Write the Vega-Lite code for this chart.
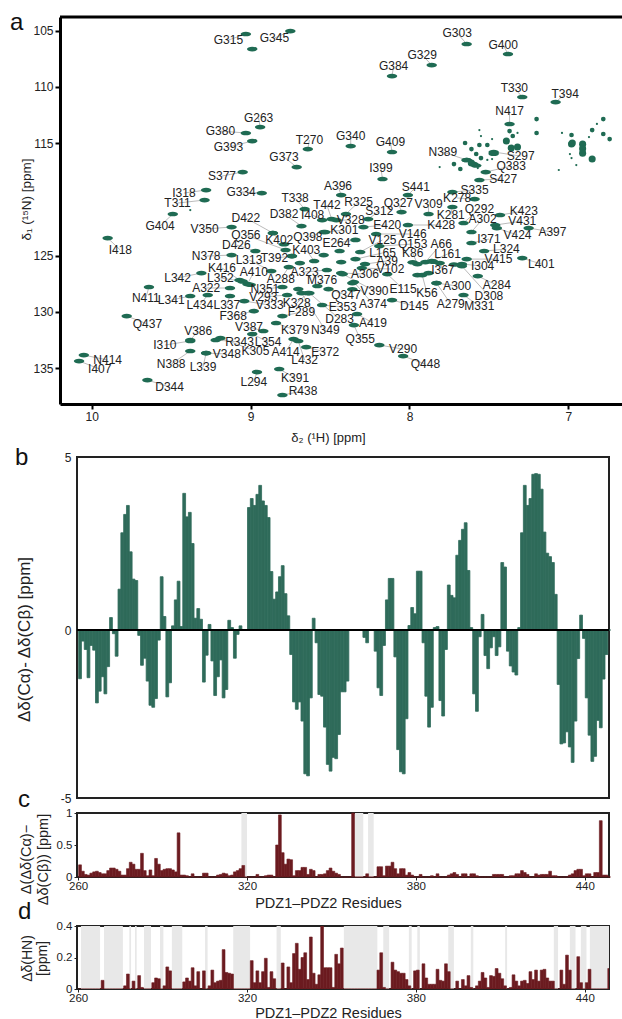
{"$schema":"https://vega.github.io/schema/vega-lite/v6.json","padding":{"left":10,"top":10,"right":-4,"bottom":0},"background":"white","bounds":"flush","center":true,"spacing":15,"config":{"font":"Liberation Sans","axis":{"grid":false,"labelColor":"#222","titleColor":"#222","tickColor":"#222","domainColor":"#111","titleFontWeight":"normal"},"title":{"fontWeight":"normal","color":"#111"}},
"datasets":{
"peaks":[
{"res":"G315","H":9.03,"N":105.31,"lH":9.14,"lN":105.85},{"res":"G345","H":8.75,"N":105.05,"lH":8.85,"lN":105.67},{"res":"G263","H":8.94,"N":113.58,"lH":8.95,"lN":112.78},{"res":"G380","H":9.03,"N":114.11,"lH":9.19,"lN":113.94},{"res":"G393","H":8.99,"N":114.83,"lH":9.14,"lN":115.36},{"res":"T270","H":8.64,"N":115.54,"lH":8.63,"lN":114.74},{"res":"G373","H":8.71,"N":117.14,"lH":8.79,"lN":116.25},{"res":"S377","H":9.05,"N":117.58,"lH":9.18,"lN":117.94},{"res":"I318","H":9.28,"N":119.18,"lH":9.42,"lN":119.45},{"res":"T311","H":9.29,"N":120.07,"lH":9.46,"lN":120.34},{"res":"G334","H":8.93,"N":119.45,"lH":9.06,"lN":119.36},{"res":"T338","H":8.66,"N":120.87,"lH":8.72,"lN":119.89},{"res":"G404","H":9.49,"N":121.31,"lH":9.57,"lN":122.38},{"res":"I418","H":9.9,"N":123.45,"lH":9.82,"lN":124.52},{"res":"V350","H":9.12,"N":122.47,"lH":9.29,"lN":122.65},{"res":"D422","H":8.86,"N":123.0,"lH":9.03,"lN":121.67},{"res":"D382","H":8.68,"N":122.38,"lH":8.79,"lN":121.31},{"res":"I408","H":8.55,"N":121.85,"lH":8.61,"lN":121.4},{"res":"T442","H":8.49,"N":121.76,"lH":8.52,"lN":120.51},{"res":"Q356","H":8.78,"N":124.51,"lH":9.03,"lN":123.18},{"res":"K402","H":8.86,"N":123.0,"lH":8.82,"lN":123.62},{"res":"Q398","H":8.54,"N":122.91,"lH":8.64,"lN":123.36},{"res":"D426","H":8.97,"N":124.6,"lH":9.09,"lN":124.07},{"res":"N378","H":9.12,"N":124.96,"lH":9.28,"lN":125.05},{"res":"K403","H":8.6,"N":125.49,"lH":8.65,"lN":124.51},{"res":"T392","H":8.74,"N":125.05,"lH":8.85,"lN":125.23},{"res":"L313","H":8.87,"N":126.38,"lH":9.01,"lN":125.4},{"res":"A410","H":9.02,"N":127.54,"lH":8.98,"lN":126.47},{"res":"K416","H":9.07,"N":127.18,"lH":9.18,"lN":126.11},{"res":"L342","H":9.31,"N":126.56,"lH":9.46,"lN":127.0},{"res":"L352","H":9.05,"N":127.3,"lH":9.19,"lN":127.0},{"res":"A288","H":8.76,"N":126.03,"lH":8.81,"lN":127.09},{"res":"A323","H":8.52,"N":126.29,"lH":8.66,"lN":126.47},{"res":"M376","H":8.58,"N":127.71,"lH":8.55,"lN":127.18},{"res":"A322","H":9.13,"N":127.89,"lH":9.28,"lN":127.89},{"res":"N351","H":8.8,"N":127.8,"lH":8.91,"lN":127.98},{"res":"V293","H":8.77,"N":128.51,"lH":8.92,"lN":128.69},{"res":"N411","H":9.64,"N":127.8,"lH":9.66,"lN":128.78},{"res":"L341","H":9.38,"N":128.6,"lH":9.5,"lN":128.96},{"res":"L434","H":9.27,"N":128.51,"lH":9.32,"lN":129.4},{"res":"L337","H":9.13,"N":128.6,"lH":9.15,"lN":129.4},{"res":"V333","H":9.04,"N":129.05,"lH":8.88,"lN":129.4},{"res":"K328","H":8.64,"N":128.34,"lH":8.71,"lN":129.23},{"res":"F289","H":8.8,"N":130.38,"lH":8.68,"lN":130.03},{"res":"F368","H":8.98,"N":129.94,"lH":9.11,"lN":130.38},{"res":"Q437","H":9.78,"N":130.38,"lH":9.65,"lN":131.09},{"res":"V387","H":8.92,"N":131.71,"lH":9.01,"lN":131.36},{"res":"L354","H":8.99,"N":131.98,"lH":8.89,"lN":132.69},{"res":"K379","H":8.84,"N":131.0,"lH":8.72,"lN":131.63},{"res":"N349","H":8.68,"N":128.34,"lH":8.53,"lN":131.63},{"res":"D283","H":8.63,"N":128.34,"lH":8.44,"lN":130.65},{"res":"E353","H":8.55,"N":129.4,"lH":8.42,"lN":129.58},{"res":"Q347","H":8.51,"N":127.98,"lH":8.4,"lN":128.51},{"res":"A419","H":8.33,"N":130.2,"lH":8.23,"lN":131.0},{"res":"Q355","H":8.35,"N":131.18,"lH":8.31,"lN":132.43},{"res":"R343","H":9.22,"N":132.51,"lH":9.07,"lN":132.69},{"res":"K305","H":9.19,"N":132.34,"lH":8.97,"lN":133.49},{"res":"A414","H":8.73,"N":132.43,"lH":8.78,"lN":133.58},{"res":"V386","H":9.38,"N":132.51,"lH":9.33,"lN":131.71},{"res":"E372","H":8.65,"N":133.14,"lH":8.53,"lN":133.58},{"res":"L432","H":8.7,"N":132.6,"lH":8.66,"lN":134.29},{"res":"I310","H":9.38,"N":132.6,"lH":9.54,"lN":132.96},{"res":"V348","H":9.28,"N":133.67,"lH":9.15,"lN":133.76},{"res":"L339","H":9.28,"N":133.67,"lH":9.3,"lN":134.92},{"res":"N388","H":9.38,"N":133.49,"lH":9.5,"lN":134.65},{"res":"N414","H":10.05,"N":133.85,"lH":9.9,"lN":134.29},{"res":"I407","H":10.08,"N":134.38,"lH":9.95,"lN":135.09},{"res":"D344","H":9.65,"N":136.07,"lH":9.51,"lN":136.69},{"res":"L294","H":8.96,"N":135.36,"lH":8.98,"lN":136.25},{"res":"K391","H":8.82,"N":135.09,"lH":8.72,"lN":135.89},{"res":"R438","H":8.8,"N":137.4,"lH":8.67,"lN":137.05},{"res":"G303","H":7.64,"N":106.2,"lH":7.7,"lN":105.22},{"res":"G400","H":7.38,"N":107.09,"lH":7.41,"lN":106.29},{"res":"G329","H":7.86,"N":108.07,"lH":7.92,"lN":107.18},{"res":"G384","H":8.11,"N":109.05,"lH":8.1,"lN":108.16},{"res":"T330","H":7.29,"N":110.91,"lH":7.34,"lN":110.11},{"res":"T394","H":7.08,"N":111.36,"lH":7.02,"lN":110.65},{"res":"N417","H":7.37,"N":113.31,"lH":7.37,"lN":112.16},{"res":"G340","H":8.37,"N":115.27,"lH":8.37,"lN":114.38},{"res":"G409","H":8.11,"N":115.8,"lH":8.12,"lN":114.91},{"res":"N389","H":7.64,"N":116.51,"lH":7.79,"lN":115.8},{"res":"S297","H":7.47,"N":115.8,"lH":7.3,"lN":116.16},{"res":"Q383","H":7.52,"N":117.58,"lH":7.36,"lN":117.05},{"res":"S427","H":7.56,"N":118.29,"lH":7.41,"lN":118.2},{"res":"I399","H":8.17,"N":118.2,"lH":8.18,"lN":117.23},{"res":"S441","H":8.01,"N":119.63,"lH":7.96,"lN":118.92},{"res":"S335","H":7.73,"N":119.36,"lH":7.59,"lN":119.18},{"res":"K278","H":7.59,"N":119.98,"lH":7.7,"lN":119.89},{"res":"A396","H":8.43,"N":119.63,"lH":8.45,"lN":118.83},{"res":"R325","H":8.4,"N":121.31,"lH":8.32,"lN":120.25},{"res":"S312","H":8.26,"N":121.76,"lH":8.19,"lN":121.05},{"res":"Q327","H":8.05,"N":121.14,"lH":8.07,"lN":120.34},{"res":"V309","H":7.88,"N":121.31,"lH":7.88,"lN":120.43},{"res":"K281","H":7.73,"N":120.69,"lH":7.74,"lN":121.4},{"res":"K428","H":8.01,"N":122.29,"lH":7.8,"lN":122.29},{"res":"E420","H":8.29,"N":122.47,"lH":8.14,"lN":122.29},{"res":"V328","H":8.46,"N":121.85,"lH":8.37,"lN":121.85},{"res":"K301","H":8.53,"N":122.91,"lH":8.41,"lN":122.74},{"res":"E264","H":8.34,"N":123.62,"lH":8.46,"lN":123.89},{"res":"Q292","H":7.66,"N":122.11,"lH":7.56,"lN":120.87},{"res":"A302","H":7.61,"N":122.91,"lH":7.54,"lN":121.76},{"res":"K423","H":7.43,"N":121.4,"lH":7.28,"lN":121.05},{"res":"V431","H":7.46,"N":122.29,"lH":7.29,"lN":121.94},{"res":"V424","H":7.45,"N":122.56,"lH":7.32,"lN":123.18},{"res":"A397","H":7.25,"N":122.56,"lH":7.1,"lN":122.91},{"res":"I371","H":7.61,"N":123.89,"lH":7.5,"lN":123.54},{"res":"L324","H":7.53,"N":124.6,"lH":7.39,"lN":124.43},{"res":"V415","H":7.64,"N":125.32,"lH":7.44,"lN":125.32},{"res":"L401","H":7.29,"N":125.23,"lH":7.17,"lN":125.76},{"res":"I304","H":7.67,"N":125.76,"lH":7.54,"lN":125.94},{"res":"I367","H":7.81,"N":125.67,"lH":7.79,"lN":126.29},{"res":"L161","H":7.86,"N":125.49,"lH":7.76,"lN":124.87},{"res":"A66","H":7.9,"N":125.58,"lH":7.8,"lN":123.98},{"res":"K86","H":7.95,"N":125.76,"lH":7.98,"lN":124.78},{"res":"Q153","H":8.19,"N":124.16,"lH":7.98,"lN":123.98},{"res":"V146","H":8.21,"N":123.09,"lH":7.98,"lN":123.09},{"res":"V125","H":8.31,"N":124.69,"lH":8.17,"lN":123.62},{"res":"L165","H":8.34,"N":125.32,"lH":8.17,"lN":124.78},{"res":"A39","H":8.28,"N":125.76,"lH":8.14,"lN":125.49},{"res":"V102","H":8.3,"N":126.12,"lH":8.12,"lN":126.2},{"res":"A306","H":8.43,"N":126.56,"lH":8.28,"lN":126.65},{"res":"A284","H":7.57,"N":126.83,"lH":7.45,"lN":127.63},{"res":"A300","H":7.83,"N":127.45,"lH":7.7,"lN":127.71},{"res":"D308","H":7.67,"N":125.94,"lH":7.5,"lN":128.6},{"res":"M331","H":7.66,"N":128.51,"lH":7.56,"lN":129.49},{"res":"A279","H":7.83,"N":127.45,"lH":7.74,"lN":129.32},{"res":"K56","H":7.92,"N":126.74,"lH":7.89,"lN":128.34},{"res":"E115","H":8.14,"N":126.65,"lH":8.04,"lN":127.98},{"res":"D145","H":8.11,"N":128.96,"lH":7.97,"lN":129.49},{"res":"A374","H":8.35,"N":127.36,"lH":8.23,"lN":129.32},{"res":"V390","H":8.42,"N":126.65,"lH":8.22,"lN":128.16},{"res":"V290","H":8.19,"N":132.96,"lH":8.04,"lN":133.32},{"res":"Q448","H":8.04,"N":133.94,"lH":7.9,"lN":134.65}],
"unlabelled":[{"H":8.99,"N":106.65},{"H":8.69,"N":125.67},{"H":8.44,"N":124.6},{"H":8.43,"N":125.58},{"H":7.88,"N":126.56},{"H":7.95,"N":126.74},{"H":8.36,"N":127.45},{"H":8.7,"N":127.98},{"H":8.54,"N":124.96},{"H":9.0,"N":127.6},{"H":8.74,"N":125.05},{"H":8.36,"N":128.0},{"H":8.79,"N":124.0},{"H":7.85,"N":125.55},{"H":7.72,"N":125.8},{"H":7.98,"N":125.6},{"H":7.64,"N":116.51},{"H":7.6,"N":116.85},{"H":7.58,"N":117.0},{"H":7.47,"N":115.95}],
"minor":[{"H":7.2,"N":112.87,"c":"s"},{"H":7.2,"N":114.11,"c":"s"},{"H":7.56,"N":113.85,"c":"t"},{"H":7.55,"N":114.38,"c":"t"},{"H":7.65,"N":115.0,"c":"s"},{"H":7.56,"N":115.18,"c":"s"},{"H":7.48,"N":114.65,"c":"t"},{"H":7.35,"N":114.38,"c":"s"},{"H":7.32,"N":114.11,"c":"t"},{"H":7.39,"N":114.83,"c":"m"},{"H":7.51,"N":115.18,"c":"s"},{"H":7.36,"N":115.45,"c":"m"},{"H":7.32,"N":115.36,"c":"m"},{"H":7.61,"N":115.54,"c":"s"},{"H":7.58,"N":115.98,"c":"s"},{"H":7.55,"N":116.34,"c":"s"},{"H":7.61,"N":116.78,"c":"m"},{"H":7.72,"N":116.87,"c":"s"},{"H":7.68,"N":117.31,"c":"s"},{"H":7.81,"N":117.14,"c":"t"},{"H":7.48,"N":116.43,"c":"t"},{"H":7.51,"N":116.51,"c":"t"},{"H":7.57,"N":117.23,"c":"t"},{"H":7.37,"N":113.94,"c":"s"},{"H":6.78,"N":112.87,"c":"s"},{"H":6.85,"N":113.85,"c":"s"},{"H":6.82,"N":113.31,"c":"t"},{"H":6.87,"N":114.47,"c":"t"},{"H":6.78,"N":114.2,"c":"s"},{"H":6.74,"N":114.65,"c":"s"},{"H":6.98,"N":114.29,"c":"s"},{"H":7.04,"N":114.11,"c":"t"},{"H":6.98,"N":115.09,"c":"m"},{"H":6.975,"N":115.0,"c":"m"},{"H":6.91,"N":115.1,"c":"m"},{"H":6.91,"N":115.5,"c":"m"},{"H":6.91,"N":115.9,"c":"m"},{"H":6.99,"N":115.98,"c":"t"},{"H":6.98,"N":116.34,"c":"t"},{"H":6.85,"N":116.43,"c":"m"},{"H":6.95,"N":116.96,"c":"t"},{"H":7.06,"N":117.4,"c":"t"},{"H":9.38,"N":120.96,"c":"t"}],
"residues":[{"r":260,"b":-1.45,"c":0.19,"d":0},{"r":261,"b":-0.33,"c":0.09,"d":0},{"r":262,"b":-0.58,"c":0.04,"d":0},{"r":263,"b":-1.42,"c":0.03,"d":0},{"r":264,"b":-0.46,"c":0.06,"d":0},{"r":265,"b":-0.6,"c":0.08,"d":0},{"r":266,"b":-2.17,"c":0.09,"d":0},{"r":267,"b":-1.82,"c":0.07,"d":0},{"r":268,"b":-1.39,"c":0.05,"d":0.055},{"r":269,"b":-1.9,"c":0.05,"d":0},{"r":270,"b":-1.09,"c":0.1,"d":0},{"r":271,"b":0.36,"c":0.14,"d":0},{"r":272,"b":-0.11,"c":0.14,"d":0},{"r":273,"b":-0.78,"c":0.12,"d":0},{"r":274,"b":1.18,"c":0.09,"d":0},{"r":275,"b":2.81,"c":0.03,"d":0},{"r":276,"b":3.34,"c":0.03,"d":0.02},{"r":277,"b":3.6,"c":0.13,"d":0.095},{"r":278,"b":2.26,"c":0.23,"d":0},{"r":279,"b":1.47,"c":0.2,"d":0.05},{"r":280,"b":1.43,"c":0.12,"d":0},{"r":281,"b":-0.16,"c":0.12,"d":0.085},{"r":282,"b":-1.05,"c":0.37,"d":0.01},{"r":283,"b":-0.84,"c":0.1,"d":0},{"r":284,"b":-1.52,"c":0.02,"d":0},{"r":285,"b":-2.24,"c":0.11,"d":0},{"r":286,"b":-2.3,"c":0.02,"d":0.04},{"r":287,"b":-2.04,"c":0.29,"d":0.07},{"r":288,"b":-0.3,"c":0.2,"d":0.065},{"r":289,"b":1.54,"c":0.1,"d":0},{"r":290,"b":0.39,"c":0.12,"d":0.02},{"r":291,"b":-1.99,"c":0.13,"d":0.14},{"r":292,"b":-1.57,"c":0.13,"d":0.115},{"r":293,"b":0.12,"c":0.11,"d":0},{"r":294,"b":0.87,"c":0.08,"d":0},{"r":295,"b":1.41,"c":0.69,"d":0},{"r":296,"b":0.1,"c":0.03,"d":0},{"r":297,"b":3.95,"c":0.03,"d":0.045},{"r":298,"b":3.27,"c":0.02,"d":0.07},{"r":299,"b":3.4,"c":0,"d":0.05},{"r":300,"b":2.5,"c":0.05,"d":0.135},{"r":301,"b":0.34,"c":0,"d":0.02},{"r":302,"b":0.62,"c":0,"d":0.11},{"r":303,"b":0.31,"c":0,"d":0},{"r":304,"b":-1.55,"c":0.06,"d":0.115},{"r":305,"b":-0.75,"c":0.06,"d":0},{"r":306,"b":0.16,"c":0,"d":0.02},{"r":307,"b":-0.92,"c":0,"d":0.12},{"r":308,"b":-1.95,"c":0,"d":0.04},{"r":309,"b":-1.39,"c":0.03,"d":0.05},{"r":310,"b":-0.89,"c":0.04,"d":0.055},{"r":311,"b":-2.02,"c":0.06,"d":0.25},{"r":312,"b":-1.77,"c":0.05,"d":0.105},{"r":313,"b":0.28,"c":0.02,"d":0.1},{"r":314,"b":0.07,"c":0.03,"d":0.095},{"r":315,"b":-0.84,"c":0.08,"d":0},{"r":316,"b":-0.13,"c":0.1,"d":0},{"r":317,"b":0.12,"c":0.13,"d":0},{"r":318,"b":0,"c":0.18,"d":0},{"r":319,"b":0,"c":0,"d":0},{"r":320,"b":3.54,"c":0,"d":0},{"r":321,"b":3.8,"c":0,"d":0.18},{"r":322,"b":3.6,"c":0,"d":0.04},{"r":323,"b":3.92,"c":0.04,"d":0.115},{"r":324,"b":4.18,"c":0,"d":0.04},{"r":325,"b":3.73,"c":0,"d":0.11},{"r":326,"b":3.6,"c":0.02,"d":0.195},{"r":327,"b":3.25,"c":0.03,"d":0.01},{"r":328,"b":1.69,"c":0.03,"d":0.11},{"r":329,"b":0.89,"c":0,"d":0.065},{"r":330,"b":1.1,"c":0.5,"d":0},{"r":331,"b":1.54,"c":0.97,"d":0},{"r":332,"b":1.86,"c":0.38,"d":0.165},{"r":333,"b":1.05,"c":0.2,"d":0},{"r":334,"b":0.41,"c":0.28,"d":0.14},{"r":335,"b":-0.73,"c":0.27,"d":0.04},{"r":336,"b":-2.14,"c":0.02,"d":0.225},{"r":337,"b":-2.36,"c":0.1,"d":0.29},{"r":338,"b":-2.14,"c":0.1,"d":0.125},{"r":339,"b":-2.71,"c":0.15,"d":0.2},{"r":340,"b":-4.28,"c":0.15,"d":0.23},{"r":341,"b":-4.34,"c":0.04,"d":0.06},{"r":342,"b":-2.02,"c":0.12,"d":0.33},{"r":343,"b":0.34,"c":0.1,"d":0.1},{"r":344,"b":-0.38,"c":0,"d":0.03},{"r":345,"b":-1.92,"c":0.04,"d":0.09},{"r":346,"b":-1.97,"c":0.04,"d":0.4},{"r":347,"b":-2.89,"c":0.05,"d":0.135},{"r":348,"b":-4.0,"c":0.1,"d":0.135},{"r":349,"b":-4.2,"c":0.14,"d":0.135},{"r":350,"b":-3.79,"c":0.09,"d":0.01},{"r":351,"b":-3.83,"c":0.06,"d":0.22},{"r":352,"b":-3.11,"c":0.04,"d":0.16},{"r":353,"b":-1.84,"c":0,"d":0.26},{"r":354,"b":-1.84,"c":0,"d":0},{"r":355,"b":-1.52,"c":0,"d":0},{"r":356,"b":0,"c":0,"d":0},{"r":357,"b":0,"c":1.0,"d":0},{"r":358,"b":0,"c":0,"d":0},{"r":359,"b":0,"c":0,"d":0},{"r":360,"b":0,"c":0,"d":0},{"r":361,"b":-0.22,"c":0,"d":0},{"r":362,"b":-0.38,"c":0.05,"d":0},{"r":363,"b":0,"c":0,"d":0},{"r":364,"b":0,"c":0,"d":0},{"r":365,"b":-0.63,"c":0,"d":0},{"r":366,"b":-1.72,"c":0.16,"d":0.12},{"r":367,"b":-1.95,"c":0.16,"d":0.23},{"r":368,"b":-0.46,"c":0.02,"d":0.01},{"r":369,"b":0.87,"c":0.17,"d":0},{"r":370,"b":1.49,"c":0.17,"d":0},{"r":371,"b":1.49,"c":0.23,"d":0.17},{"r":372,"b":-0.8,"c":0.13,"d":0.12},{"r":373,"b":-3.56,"c":0.05,"d":0.11},{"r":374,"b":-4.22,"c":0.13,"d":0.1},{"r":375,"b":-4.28,"c":0.13,"d":0.1},{"r":376,"b":-2.64,"c":0.03,"d":0.06},{"r":377,"b":0.13,"c":0.07,"d":0.02},{"r":378,"b":0.65,"c":0.03,"d":0},{"r":379,"b":0.47,"c":0,"d":0.115},{"r":380,"b":1.7,"c":0,"d":0.12},{"r":381,"b":1.7,"c":0.04,"d":0},{"r":382,"b":-0.38,"c":0,"d":0.16},{"r":383,"b":-1.97,"c":0,"d":0.07},{"r":384,"b":-2.89,"c":0,"d":0.03},{"r":385,"b":-2.3,"c":0.02,"d":0.03},{"r":386,"b":0.07,"c":0,"d":0.03},{"r":387,"b":0.1,"c":0.05,"d":0.125},{"r":388,"b":-2.1,"c":0,"d":0.055},{"r":389,"b":-2.56,"c":0,"d":0.05},{"r":390,"b":-0.58,"c":0,"d":0.16},{"r":391,"b":1.3,"c":0.03,"d":0.11},{"r":392,"b":1.0,"c":0.05,"d":0},{"r":393,"b":0.93,"c":0.07,"d":0},{"r":394,"b":2.16,"c":0.04,"d":0.05},{"r":395,"b":2.59,"c":0,"d":0},{"r":396,"b":2.91,"c":0.05,"d":0.06},{"r":397,"b":3.1,"c":0.05,"d":0.02},{"r":398,"b":1.72,"c":0,"d":0.085},{"r":399,"b":0.07,"c":0.05,"d":0.01},{"r":400,"b":-1.9,"c":0.05,"d":0},{"r":401,"b":-2.42,"c":0.02,"d":0.02},{"r":402,"b":-0.2,"c":0,"d":0.05},{"r":403,"b":0.45,"c":0,"d":0.105},{"r":404,"b":-0.76,"c":0,"d":0.07},{"r":405,"b":-1.15,"c":0,"d":0.01},{"r":406,"b":-0.53,"c":0,"d":0.085},{"r":407,"b":-0.2,"c":0.04,"d":0.08},{"r":408,"b":-0.76,"c":0.04,"d":0.13},{"r":409,"b":-0.5,"c":0.04,"d":0.1},{"r":410,"b":1.95,"c":0.04,"d":0.065},{"r":411,"b":1.82,"c":0,"d":0.02},{"r":412,"b":-0.63,"c":0,"d":0},{"r":413,"b":-1.07,"c":0.02,"d":0.01},{"r":414,"b":-1.25,"c":0.02,"d":0.09},{"r":415,"b":-1.34,"c":0.05,"d":0.05},{"r":416,"b":0.07,"c":0.05,"d":0.02},{"r":417,"b":2.81,"c":0.1,"d":0.05},{"r":418,"b":4.18,"c":0.07,"d":0.055},{"r":419,"b":3.6,"c":0.04,"d":0.035},{"r":420,"b":3.8,"c":0,"d":0.11},{"r":421,"b":4.5,"c":0,"d":0.06},{"r":422,"b":4.52,"c":0.05,"d":0.12},{"r":423,"b":4.5,"c":0.03,"d":0.05},{"r":424,"b":4.07,"c":0.04,"d":0.12},{"r":425,"b":2.83,"c":0.04,"d":0.125},{"r":426,"b":2.22,"c":0.04,"d":0.07},{"r":427,"b":2.12,"c":0.09,"d":0.05},{"r":428,"b":1.95,"c":0.02,"d":0.05},{"r":429,"b":1.03,"c":0.02,"d":0},{"r":430,"b":-1.62,"c":0,"d":0},{"r":431,"b":-3.39,"c":0,"d":0.12},{"r":432,"b":-3.36,"c":0,"d":0.03},{"r":433,"b":-3.03,"c":0,"d":0.215},{"r":434,"b":-3.48,"c":0.03,"d":0.12},{"r":435,"b":-3.94,"c":0.05,"d":0},{"r":436,"b":-2.71,"c":0.1,"d":0},{"r":437,"b":-0.85,"c":0.12,"d":0.205},{"r":438,"b":0.43,"c":0.12,"d":0.04},{"r":439,"b":-0.25,"c":0.02,"d":0},{"r":440,"b":-2.02,"c":0.05,"d":0.04},{"r":441,"b":-3.13,"c":0.05,"d":0.125},{"r":442,"b":-3.91,"c":0,"d":0},{"r":443,"b":-3.76,"c":0.07,"d":0},{"r":444,"b":-2.69,"c":0.07,"d":0},{"r":445,"b":-2.91,"c":0.88,"d":0},{"r":446,"b":-1.46,"c":0.03,"d":0},{"r":447,"b":-0.73,"c":0.03,"d":0},{"r":448,"b":0,"c":0,"d":0.13}],
"bandsC":[{"a":318,"e":320},{"a":358.3,"e":361.3},{"a":363,"e":365}],
"bandsD":[{"a":261,"e":267.8},{"a":269.2,"e":275.9},{"a":278.2,"e":278.8},{"a":280.2,"e":280.8},{"a":283.4,"e":285.9},{"a":289.1,"e":290.3},{"a":293.3,"e":297},{"a":305.1,"e":306},{"a":315.1,"e":321.1},{"a":330.5,"e":332},{"a":354.4,"e":366.3},{"a":368.4,"e":370.5},{"a":377.5,"e":378.5},{"a":380.5,"e":381.4},{"a":391.5,"e":393.5},{"a":399.5,"e":400.4},{"a":411.7,"e":412.4},{"a":429,"e":430.5},{"a":434.7,"e":436.7},{"a":438.6,"e":440.6},{"a":441.8,"e":448.6}]
},
"vconcat":[
{"width":566,"height":387,"title":{"text":"a","anchor":"start","frame":"group","fontSize":24,"dx":-50,"dy":19,"offset":0},"view":{"stroke":null},
"layer":[
{"data":{"name":"peaks"},"mark":{"type":"rule","color":"#aaa","strokeWidth":0.8},"encoding":{"x":{"field":"H","type":"quantitative","scale":{"domain":[10.2,6.637],"nice":false,"zero":false},"axis":{"title":"δ₂ (¹H) [ppm]","titleFontSize":13,"titleFontWeight":"normal","titleX":268,"titlePadding":9,"values":[7,8,9,10],"format":"d","labelFontSize":12,"domainWidth":3,"domainColor":"#000","tickWidth":2,"tickSize":5,"tickColor":"#000"}},"x2":{"field":"lH"},"y":{"field":"N","type":"quantitative","scale":{"domain":[103.8,138.2],"nice":false,"zero":false,"reverse":true},"axis":{"title":"δ₁ (¹⁵N) [ppm]","titleFontSize":13.5,"titleFontWeight":"normal","titleY":182,"titleX":-27,"values":[105,110,115,125,130,135],"labelFontSize":12,"domainWidth":3,"domainColor":"#000","tickWidth":2,"tickSize":5,"tickColor":"#000"}},"y2":{"field":"lN"}}},
{"data":{"values":[{"N":103.8}]},"mark":{"type":"rule","color":"#000","strokeWidth":3},"encoding":{"y":{"field":"N","type":"quantitative"}}},
{"data":{"name":"peaks"},"mark":{"type":"point","filled":true,"opacity":1,"color":"#1f6b53","size":110,"shape":"M-1,0A1,0.45,0,1,1,1,0A1,0.45,0,1,1,-1,0Z"},"encoding":{"x":{"field":"H","type":"quantitative"},"y":{"field":"N","type":"quantitative"}}},
{"data":{"name":"unlabelled"},"mark":{"type":"point","filled":true,"opacity":1,"color":"#1f6b53","size":110,"shape":"M-1,0A1,0.45,0,1,1,1,0A1,0.45,0,1,1,-1,0Z"},"encoding":{"x":{"field":"H","type":"quantitative"},"y":{"field":"N","type":"quantitative"}}},
{"data":{"name":"minor"},"transform":[{"filter":"datum.c==='m'"}],"mark":{"type":"circle","opacity":1,"color":"#1f6b53","size":50},"encoding":{"x":{"field":"H","type":"quantitative"},"y":{"field":"N","type":"quantitative"}}},
{"data":{"name":"minor"},"transform":[{"filter":"datum.c==='s'"}],"mark":{"type":"circle","opacity":1,"color":"#1f6b53","size":22},"encoding":{"x":{"field":"H","type":"quantitative"},"y":{"field":"N","type":"quantitative"}}},
{"data":{"name":"minor"},"transform":[{"filter":"datum.c==='t'"}],"mark":{"type":"circle","opacity":1,"color":"#1f6b53","size":5},"encoding":{"x":{"field":"H","type":"quantitative"},"y":{"field":"N","type":"quantitative"}}},
{"data":{"name":"peaks"},"mark":{"type":"text","fontSize":12,"color":"#222","align":"center","baseline":"middle"},"encoding":{"x":{"field":"lH","type":"quantitative"},"y":{"field":"lN","type":"quantitative"},"text":{"field":"res"}}}
]},
{"width":532,"height":23,"view":{"stroke":null},"data":{"values":[]},"mark":"point","encoding":{}},
{"width":532,"height":341,"title":{"text":"b","anchor":"start","frame":"group","fontSize":24,"dx":-62,"dy":19,"offset":0},"view":{"stroke":"#222","strokeWidth":2},
"layer":[
{"data":{"name":"residues"},"mark":{"type":"bar","binSpacing":0,"color":"#2f6b5a","stroke":"#2f6b5a","strokeWidth":0.8},"encoding":{"x":{"field":"r","type":"quantitative","bin":{"step":1,"extent":[260,449]},"scale":{"domain":[259.6,448.6],"nice":false,"zero":false},"axis":null},"y":{"field":"b","type":"quantitative","scale":{"domain":[-5,0,5],"range":[341,173,0],"nice":false},"axis":{"title":"Δδ(Cα)- Δδ(Cβ) [ppm]","titleFontSize":17,"titleFontWeight":"normal","titleX":-44,"titleY":182,"values":[-5,0,5],"labelExpr":"datum.value<0?'-5':datum.label","labelFontSize":12,"tickSize":0,"domain":false,"labelPadding":6}}}},
{"data":{"values":[{"z":0}]},"mark":{"type":"rule","color":"#000","strokeWidth":2},"encoding":{"y":{"field":"z","type":"quantitative"}}}
]},
{"width":532,"height":64,"title":{"text":"c","anchor":"start","frame":"group","fontSize":24,"dx":-59,"dy":5,"offset":0},"view":{"stroke":"#222","strokeWidth":2},
"layer":[
{"data":{"name":"bandsC"},"mark":{"type":"rect","color":"#e8e8e8"},"encoding":{"x":{"field":"a","type":"quantitative","scale":{"domain":[259.6,448.6],"nice":false,"zero":false},"axis":{"title":"PDZ1–PDZ2 Residues","titleFontSize":14.5,"titleFontWeight":"normal","titleX":251,"titlePadding":5,"values":[260,320,380,440],"format":"d","labelFontSize":11.5,"tickSize":3,"labelPadding":0,"domain":false}},"x2":{"field":"e"}}},
{"data":{"name":"residues"},"mark":{"type":"bar","binSpacing":0,"color":"#6b1b20","stroke":"#6b1b20","strokeWidth":0.6},"encoding":{"x":{"field":"r","type":"quantitative","bin":{"step":1,"extent":[260,449]},"scale":{"domain":[259.6,448.6],"nice":false,"zero":false},"axis":{"title":"PDZ1–PDZ2 Residues","titleFontSize":14.5,"titleFontWeight":"normal","titleX":251,"titlePadding":5,"values":[260,320,380,440],"format":"d","labelFontSize":11.5,"tickSize":3,"labelPadding":0,"domain":false}},"y":{"field":"c","type":"quantitative","scale":{"domain":[0,1],"nice":false},"axis":{"title":["Δ(Δδ(Cα)−","Δδ(Cβ)) [ppm]"],"titleFontSize":14.5,"titleLineHeight":17,"titleFontWeight":"normal","titleX":-44,"titleY":46,"values":[0,0.5,1],"format":"~g","labelFontSize":11.5,"tickSize":3,"domain":false}}}}
]},
{"width":532,"height":19,"view":{"stroke":null},"data":{"values":[]},"mark":"point","encoding":{}},
{"width":532,"height":63,"title":{"text":"d","anchor":"start","frame":"group","fontSize":24,"dx":-59,"dy":4,"offset":0},"view":{"stroke":"#222","strokeWidth":2},
"layer":[
{"data":{"name":"bandsD"},"mark":{"type":"rect","color":"#e8e8e8"},"encoding":{"x":{"field":"a","type":"quantitative","scale":{"domain":[259.6,448.6],"nice":false,"zero":false},"axis":{"title":"PDZ1–PDZ2 Residues","titleFontSize":14.5,"titleFontWeight":"normal","titleX":251,"titlePadding":3,"values":[260,320,380,440],"format":"d","labelFontSize":11.5,"tickSize":3,"labelPadding":0,"domain":false}},"x2":{"field":"e"}}},
{"data":{"name":"residues"},"mark":{"type":"bar","binSpacing":0,"clip":true,"color":"#6b1b20","stroke":"#6b1b20","strokeWidth":0.6},"encoding":{"x":{"field":"r","type":"quantitative","bin":{"step":1,"extent":[260,449]},"scale":{"domain":[259.6,448.6],"nice":false,"zero":false},"axis":{"title":"PDZ1–PDZ2 Residues","titleFontSize":14.5,"titleFontWeight":"normal","titleX":251,"titlePadding":3,"values":[260,320,380,440],"format":"d","labelFontSize":11.5,"tickSize":3,"labelPadding":0,"domain":false}},"y":{"field":"d","type":"quantitative","scale":{"domain":[0,0.4],"nice":false},"axis":{"title":["Δδ(HN)","[ppm]"],"titleFontSize":14,"titleLineHeight":15,"titleFontWeight":"normal","titleX":-43,"titleY":32,"values":[0,0.2,0.4],"format":"~g","labelFontSize":11.5,"tickSize":3,"domain":false}}}}
]}
]}
